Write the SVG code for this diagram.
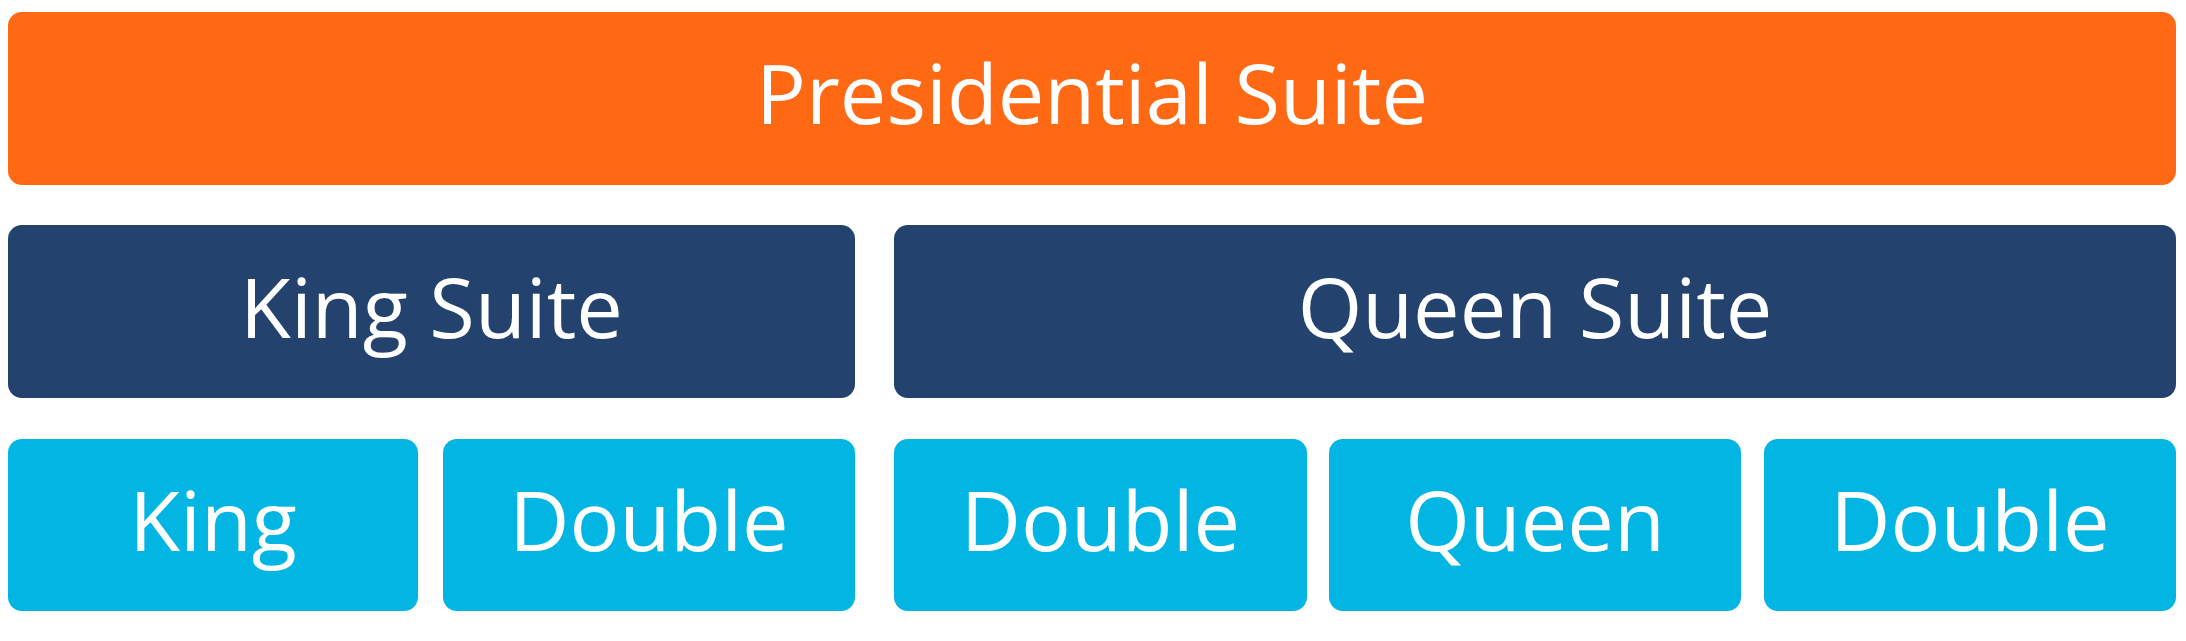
<svg xmlns="http://www.w3.org/2000/svg" width="2186" height="641" viewBox="0 0 2186 641">
<style>
.box{rx:14px;ry:14px}
.o{fill:#FF6914}
.n{fill:#23426E}
.b{fill:#02B5E2}
text{font-family:"Open Sans","DejaVu Sans",sans-serif;font-size:83px;fill:#FFFFFF;text-anchor:middle}
</style>
<rect width="2186" height="641" fill="#FFFFFF"/>
<g id="connectors"></g>
<g id="presidential-suite">
<rect class="box o" x="8" y="12" width="2168" height="173" rx="14"/>
<text x="1092" y="124">Presidential Suite</text>
</g>
<g id="king-suite">
<rect class="box n" x="8" y="225" width="847" height="173" rx="14"/>
<text x="431.5" y="338">King Suite</text>
</g>
<g id="queen-suite">
<rect class="box n" x="894" y="225" width="1282" height="173" rx="14"/>
<text x="1535" y="338">Queen Suite</text>
</g>
<g id="king">
<rect class="box b" x="8" y="439" width="410" height="172" rx="14"/>
<text x="213" y="551">King</text>
</g>
<g id="double-1">
<rect class="box b" x="443" y="439" width="412" height="172" rx="14"/>
<text x="649" y="551">Double</text>
</g>
<g id="double-2">
<rect class="box b" x="894" y="439" width="413" height="172" rx="14"/>
<text x="1100.5" y="551">Double</text>
</g>
<g id="queen">
<rect class="box b" x="1329" y="439" width="412" height="172" rx="14"/>
<text x="1535" y="551">Queen</text>
</g>
<g id="double-3">
<rect class="box b" x="1764" y="439" width="412" height="172" rx="14"/>
<text x="1970" y="551">Double</text>
</g>
</svg>
